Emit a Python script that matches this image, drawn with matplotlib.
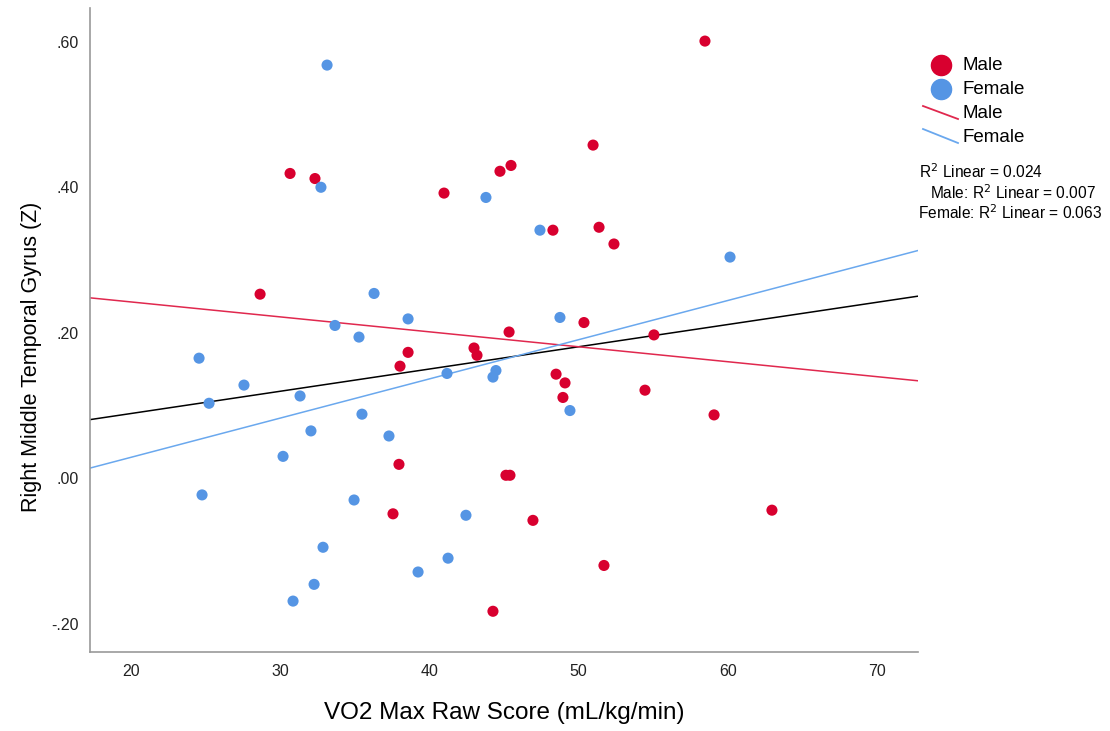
import numpy as np
import matplotlib
matplotlib.use("Agg")
import matplotlib.pyplot as plt
from matplotlib.lines import Line2D

plt.rcParams['font.family'] = ['Liberation Sans', 'DejaVu Sans']

# VO2 max (x) and right middle temporal gyrus z-score (y)
male_vo2 = [58.47, 50.97, 30.66, 32.33, 45.47, 44.73, 40.98, 48.28, 51.37, 52.37,
            28.65, 50.36, 45.34, 55.05, 38.57, 38.03, 42.99, 43.19, 48.49, 49.09,
            48.95, 54.45, 59.08, 37.96, 45.13, 45.40, 46.94, 37.56, 62.96, 51.70,
            44.26]
male_rmtg = [0.601, 0.458, 0.419, 0.412, 0.430, 0.422, 0.392, 0.341, 0.345, 0.322,
             0.253, 0.214, 0.201, 0.197, 0.173, 0.154, 0.179, 0.169, 0.143, 0.131,
             0.111, 0.121, 0.087, 0.019, 0.004, 0.004, -0.058, -0.049, -0.044, -0.120,
             -0.183]

female_vo2 = [33.14, 32.73, 43.79, 47.41, 36.29, 38.57, 33.67, 48.75, 60.15, 35.28,
              24.56, 27.57, 25.23, 31.33, 41.18, 44.46, 44.26, 35.48, 32.06, 37.29,
              30.19, 49.42, 24.76, 34.95, 42.45, 32.87, 41.25, 39.24, 32.27, 30.86]
female_rmtg = [0.568, 0.400, 0.386, 0.341, 0.254, 0.219, 0.210, 0.221, 0.304, 0.194,
               0.165, 0.128, 0.103, 0.113, 0.144, 0.148, 0.139, 0.088, 0.065, 0.058,
               0.030, 0.093, -0.023, -0.030, -0.051, -0.095, -0.110, -0.129, -0.146, -0.169]

legend_labels = ['Male', 'Female', 'Male', 'Female']
r2_labels = ["R$^2$ Linear = 0.024", "Male: R$^2$ Linear = 0.007", "Female: R$^2$ Linear = 0.063"]

RED = '#d8002f'
BLUE = '#5595e4'
RED_LINE = '#e0284e'
BLUE_LINE = '#6aa8ee'

W, H = 1110, 731
fig = plt.figure(figsize=(W / 100, H / 100), dpi=100)
ax = fig.add_axes([90/W, 79/H, 828/W, 644/H])

def fx(px):
    return px / W

def fy(py):
    return 1 - py / H

xlim = (17.25, 72.75)
ylim = (-0.239, 0.6465)
ax.set_xlim(*xlim)
ax.set_ylim(*ylim)

ax.scatter(male_vo2, male_rmtg, s=64, color=RED, edgecolors='none', zorder=3)
ax.scatter(female_vo2, female_rmtg, s=64, color=BLUE, edgecolors='none', zorder=3)

# linear fits drawn across the whole axis, like SPSS does
xs = np.array(xlim)
all_x = np.array(male_vo2 + female_vo2)
all_y = np.array(male_rmtg + female_rmtg)
for xv, yv, col in [(all_x, all_y, 'black'),
                    (np.array(male_vo2), np.array(male_rmtg), RED_LINE),
                    (np.array(female_vo2), np.array(female_rmtg), BLUE_LINE)]:
    k, b = np.polyfit(xv, yv, 1)
    ax.plot(xs, k * xs + b, color=col, lw=1.1, zorder=2)

ax.set_xticks([20, 30, 40, 50, 60, 70])
ax.set_yticks([-0.2, 0.0, 0.2, 0.4, 0.6])
ax.set_yticklabels(['-.20', '.00', '.20', '.40', '.60'])
ax.tick_params(length=0, labelsize=11.5, colors='#222222')
ax.tick_params(axis='x', pad=9)
ax.tick_params(axis='y', pad=8)
for s in ['top', 'right']:
    ax.spines[s].set_visible(False)
for s in ['left', 'bottom']:
    ax.spines[s].set_color('#999999')
    ax.spines[s].set_linewidth(1.2)

ax.set_xlabel('VO2 Max Raw Score (mL/kg/min)', fontsize=17.5)
ax.set_ylabel('Right Middle Temporal Gyrus (Z)', fontsize=15.5)
ax.xaxis.set_label_coords(0.5, -0.077)
ax.yaxis.set_label_coords(-0.058, 0.458)

# hand-built legend (SPSS style: big dots, slanted line samples)
fig.add_artist(Line2D([fx(941)], [fy(65)], marker='o', ls='none', color=RED, markersize=14.5))
fig.add_artist(Line2D([fx(941)], [fy(89)], marker='o', ls='none', color=BLUE, markersize=14.5))
fig.add_artist(Line2D([fx(923), fx(958)], [fy(106), fy(119)], color=RED_LINE, lw=1.3))
fig.add_artist(Line2D([fx(923), fx(958)], [fy(129), fy(143)], color=BLUE_LINE, lw=1.3))
for lab, py in zip(legend_labels, [66, 90, 113, 138]):
    fig.text(fx(963), fy(py), lab, fontsize=13.5, va='center', ha='left')

fig.text(fx(919), fy(172), r2_labels[0], fontsize=11.2, va='center', ha='left')
fig.text(fx(930), fy(193), r2_labels[1], fontsize=11.2, va='center', ha='left')
fig.text(fx(918), fy(213), r2_labels[2], fontsize=11.2, va='center', ha='left')

fig.savefig('out.png', dpi=100)
